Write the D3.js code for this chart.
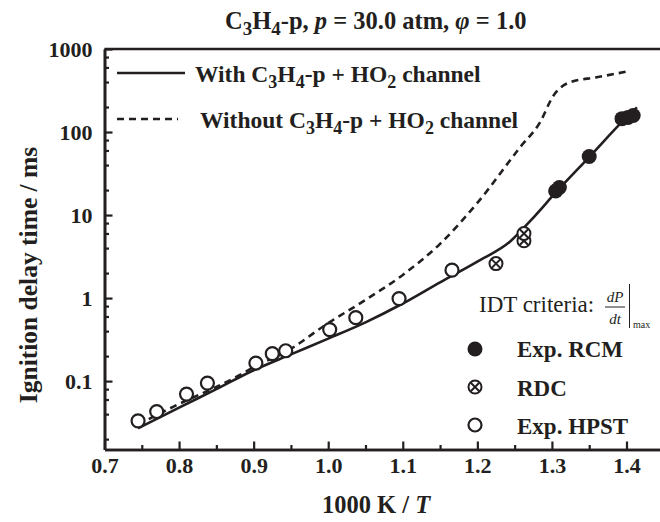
<!DOCTYPE html>
<html>
<head>
<meta charset="utf-8">
<script src="https://cdn.jsdelivr.net/npm/d3@7"></script>
<style>
  body { margin: 0; background: #fff; }
  svg { display: block; font-family: "Liberation Serif", "Times New Roman", serif; }
</style>
</head>
<body>
<svg id="chart" width="660" height="522"></svg>
<script>
// values
const withX = [0.745, 0.8, 0.85, 0.9, 0.95, 1.0, 1.05, 1.1, 1.15, 1.2, 1.244, 1.271, 1.307, 1.35, 1.4, 1.414];
const withY = [0.027, 0.048, 0.08, 0.135, 0.21, 0.325, 0.51, 0.86, 1.55, 2.75, 4.8, 8.5, 19.5, 50, 150, 198];

const withoutX = [0.745, 0.792, 0.875, 0.905, 0.943, 1.0, 1.05, 1.1, 1.15, 1.2, 1.257, 1.284, 1.302, 1.324, 1.36, 1.405];
const withoutY = [0.03, 0.049, 0.11, 0.155, 0.225, 0.5, 0.95, 1.9, 4.5, 14, 65, 131, 274, 397, 456, 545];

const rcmX = [1.305, 1.31, 1.35, 1.394, 1.402, 1.409];
const rcmY = [19.5, 21.5, 50.7, 145, 150, 158];

const rdcX = [1.225, 1.2625, 1.2625];
const rdcY = [2.6, 4.9, 6.0];

const hpstX = [0.745, 0.77, 0.81, 0.838, 0.903, 0.925, 0.943, 1.002, 1.037, 1.095, 1.166];
const hpstY = [0.0332, 0.043, 0.0697, 0.0946, 0.165, 0.214, 0.232, 0.417, 0.581, 0.986, 2.17];

const xMajor = [0.7, 0.8, 0.9, 1.0, 1.1, 1.2, 1.3, 1.4];
const xMinor = [0.75, 0.85, 0.95, 1.05, 1.15, 1.25, 1.35];
const yMajor = [0.1, 1, 10, 100, 1000];
const yMinor = [0.02, 0.04, 0.06, 0.08, 0.2, 0.4, 0.6, 0.8, 2, 4, 6, 8, 20, 40, 60, 80, 200, 400, 600, 800];

const svg = d3.select("#chart");

const padLeft = 104.5, padBottom = 449.5, padTop = 49;

const x = d3.scaleLinear().domain([0.7, 1.45]).range([padLeft, padLeft + 0.75 * 745.7]);
const y = d3.scaleLog().domain([0.015, 1000]).range([padBottom, padTop]);

const black = "#231f20";

// axes
svg.append("g")
  .attr("transform", `translate(0,${padBottom})`)
  .call(d3.axisBottom(x).tickValues(xMajor).tickSize(-8).tickSizeOuter(0).tickPadding(8)
    .tickFormat(d3.format(".1f")));
svg.append("g")
  .attr("transform", `translate(0,${padBottom})`)
  .call(d3.axisBottom(x).tickValues(xMinor).tickSize(-4.5).tickSizeOuter(0).tickFormat(""));

svg.append("g")
  .attr("transform", `translate(${padLeft},0)`)
  .call(d3.axisLeft(y).tickValues(yMajor).tickSize(-8).tickSizeOuter(0).tickPadding(12)
    .tickFormat(d => String(d)));
svg.append("g")
  .attr("transform", `translate(${padLeft},0)`)
  .call(d3.axisLeft(y).tickValues(yMinor).tickSize(-4.5).tickSizeOuter(0).tickFormat(""));

// top frame line
svg.append("line")
  .attr("x1", padLeft).attr("x2", 660)
  .attr("y1", y(1000)).attr("y2", y(1000))
  .attr("stroke", black).attr("stroke-width", 2.6);

svg.selectAll(".domain").attr("stroke", black).attr("stroke-width", 2.6);
svg.selectAll(".tick line").attr("stroke", black).attr("stroke-width", 2.2);
svg.selectAll(".tick text")
  .attr("font-family", "Liberation Serif")
  .attr("font-weight", "bold")
  .attr("font-size", 22)
  .attr("fill", black);

// curves
const line = d3.line()
  .x(d => x(d[0]))
  .y(d => y(d[1]))
  .curve(d3.curveMonotoneX);

svg.append("path")
  .datum(withoutX.map((v, i) => [v, withoutY[i]]))
  .attr("d", line)
  .attr("fill", "none")
  .attr("stroke", black)
  .attr("stroke-width", 2.6)
  .attr("stroke-dasharray", "7,5");

svg.append("path")
  .datum(withX.map((v, i) => [v, withY[i]]))
  .attr("d", line)
  .attr("fill", "none")
  .attr("stroke", black)
  .attr("stroke-width", 2.6);

// markers
const r = 7;
function crossCircle(g, cx, cy) {
  g.append("circle").attr("cx", cx).attr("cy", cy).attr("r", r - 0.5)
    .attr("fill", "white").attr("stroke", black).attr("stroke-width", 2);
  const d = (r - 1) * Math.SQRT1_2;
  g.append("path")
    .attr("d", `M${cx - d},${cy - d}L${cx + d},${cy + d}M${cx - d},${cy + d}L${cx + d},${cy - d}`)
    .attr("stroke", black).attr("stroke-width", 2);
}

svg.selectAll(".hpst")
  .data(hpstX.map((v, i) => [v, hpstY[i]]))
  .enter().append("circle")
  .attr("class", "hpst")
  .attr("cx", d => x(d[0]))
  .attr("cy", d => y(d[1]))
  .attr("r", r - 0.5)
  .attr("fill", "white")
  .attr("stroke", black)
  .attr("stroke-width", 2.2);

const rdcG = svg.append("g");
rdcX.forEach((v, i) => crossCircle(rdcG, x(v), y(rdcY[i])));

svg.selectAll(".rcm")
  .data(rcmX.map((v, i) => [v, rcmY[i]]))
  .enter().append("circle")
  .attr("class", "rcm")
  .attr("cx", d => x(d[0]))
  .attr("cy", d => y(d[1]))
  .attr("r", r + 0.5)
  .attr("fill", black);

// chemical formula helper: text with lowered subscripts
function sub(t, s, size) {
  t.append("tspan").attr("font-size", size).attr("dy", 6).text(s);
}
function up(t, s) {
  t.append("tspan").attr("dy", -6).text(s);
}

// title
const title = svg.append("text")
  .attr("x", 225).attr("y", 29)
  .attr("font-size", 24.5).attr("font-weight", "bold").attr("fill", black);
title.append("tspan").text("C");
sub(title, "3", 19);
up(title, "H");
sub(title, "4", 19);
up(title, "-p, ");
title.append("tspan").attr("font-style", "italic").text("p");
title.append("tspan").text(" = 30.0 atm,  ");
title.append("tspan").attr("font-style", "italic").text("φ");
title.append("tspan").text(" = 1.0");

// axis titles
svg.append("text")
  .attr("x", 376).attr("y", 513)
  .attr("text-anchor", "middle")
  .attr("font-size", 24.5).attr("font-weight", "bold").attr("fill", black)
  .call(t => {
    t.append("tspan").text("1000 K / ");
    t.append("tspan").attr("font-style", "italic").text("T");
  });

svg.append("text")
  .attr("transform", `translate(37,275) rotate(-90)`)
  .attr("text-anchor", "middle")
  .attr("font-size", 25.5).attr("font-weight", "bold").attr("fill", black)
  .text("Ignition delay time / ms");

// top-left legend
function formula(t, pre, post) {
  t.append("tspan").text(pre + " C");
  sub(t, "3", 18);
  up(t, "H");
  sub(t, "4", 18);
  up(t, "-p + HO");
  sub(t, "2", 18);
  up(t, post);
}

svg.append("line")
  .attr("x1", 117).attr("x2", 185).attr("y1", 73).attr("y2", 73)
  .attr("stroke", black).attr("stroke-width", 2.5);
svg.append("text")
  .attr("x", 195).attr("y", 82)
  .attr("font-size", 23.5).attr("font-weight", "bold").attr("fill", black)
  .call(t => formula(t, "With", " channel"));

svg.append("line")
  .attr("x1", 117).attr("x2", 178).attr("y1", 119).attr("y2", 119)
  .attr("stroke", black).attr("stroke-width", 2.5)
  .attr("stroke-dasharray", "7,5");
svg.append("text")
  .attr("x", 200).attr("y", 128)
  .attr("font-size", 23.5).attr("font-weight", "bold").attr("fill", black)
  .call(t => formula(t, "Without", " channel"));

// right legend
svg.append("text")
  .attr("x", 479).attr("y", 312)
  .attr("font-size", 23).attr("fill", black)
  .text("IDT criteria:");
svg.append("text")
  .attr("x", 615).attr("y", 302).attr("text-anchor", "middle")
  .attr("font-size", 15).attr("font-style", "italic").attr("fill", black)
  .text("dP");
svg.append("text")
  .attr("x", 615).attr("y", 324).attr("text-anchor", "middle")
  .attr("font-size", 15).attr("font-style", "italic").attr("fill", black)
  .text("dt");
svg.append("line")
  .attr("x1", 605).attr("x2", 625).attr("y1", 307).attr("y2", 307)
  .attr("stroke", black).attr("stroke-width", 1);
svg.append("line")
  .attr("x1", 629.5).attr("x2", 629.5).attr("y1", 284).attr("y2", 328)
  .attr("stroke", black).attr("stroke-width", 1);
svg.append("text")
  .attr("x", 633).attr("y", 328)
  .attr("font-size", 10).attr("fill", black)
  .text("max");

const legX = 475, legTextX = 517;
svg.append("circle").attr("cx", legX).attr("cy", 349).attr("r", r + 0.5).attr("fill", black);
crossCircle(svg, legX, 387);
svg.append("circle").attr("cx", legX).attr("cy", 425).attr("r", r - 0.5)
  .attr("fill", "white").attr("stroke", black).attr("stroke-width", 2.2);

[["Exp. RCM", 357], ["RDC", 396], ["Exp. HPST", 434]].forEach(([s, yy]) => {
  svg.append("text")
    .attr("x", legTextX).attr("y", yy)
    .attr("font-size", 23).attr("font-weight", "bold").attr("fill", black)
    .text(s);
});
</script>
</body>
</html>
